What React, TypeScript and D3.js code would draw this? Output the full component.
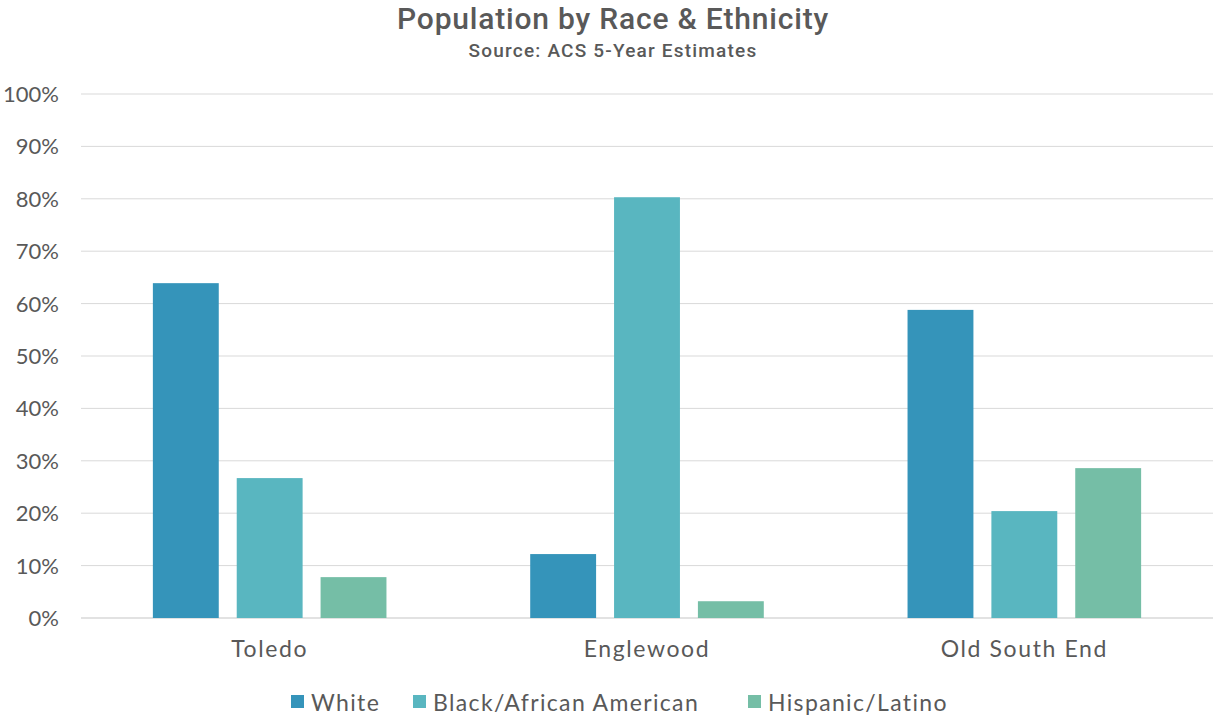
import React from "react";
import * as d3 from "d3";

const categories = ["Toledo", "Englewood", "Old South End"];
const seriesNames = ["White", "Black/African American", "Hispanic/Latino"];
const white = [0.639, 0.122, 0.588];
const black = [0.267, 0.803, 0.204];
const hispanic = [0.078, 0.032, 0.286];
const yTicks = [0, 0.1, 0.2, 0.3, 0.4, 0.5, 0.6, 0.7, 0.8, 0.9, 1.0];
const colors = ["#3594BA", "#59B6C0", "#75BEA6"];

const W = 1214;
const H = 717;
const left = 81;
const right = 1213;
const top = 94;
const bottom = 618;

export default function App() {
  const series = [white, black, hispanic];
  const x = d3.scaleBand<string>().domain(categories).range([left, right]).padding(0);
  const inner = d3
    .scaleBand<string>()
    .domain(seriesNames)
    .range([0, x.bandwidth()])
    .paddingInner(18 / 84)
    .paddingOuter(72 / 84);
  const y = d3.scaleLinear().domain([0, 1]).range([bottom, top]);
  const fmt = d3.format(".0%");
  const font = "'Lato', 'DejaVu Sans', sans-serif";
  const gray = "#595959";

  const legendX = [291, 413, 748];

  return (
    <svg width={W} height={H} style={{ position: "absolute", left: 0, top: 0, background: "#fff" }}>
      <text x={613} y={29} textAnchor="middle" fill={gray} fontFamily="Roboto, 'DejaVu Sans', sans-serif" fontSize={30} fontWeight={500} letterSpacing={0.8}>
        Population by Race &amp; Ethnicity
      </text>
      <text x={613} y={57} textAnchor="middle" fill={gray} fontFamily="Roboto, 'DejaVu Sans', sans-serif" fontSize={19} fontWeight={500} letterSpacing={1.2}>
        Source: ACS 5-Year Estimates
      </text>
      {yTicks.map((t) => (
        <g key={t}>
          <line x1={left} x2={right} y1={y(t)} y2={y(t)} stroke="#d9d9d9" strokeWidth={t === 0 ? 1.5 : 1} />
          <text x={59} y={y(t) + 8} textAnchor="end" fill={gray} fontFamily={font} fontSize={22}>
            {fmt(t)}
          </text>
        </g>
      ))}
      {categories.map((c, ci) => (
        <g key={c}>
          {series.map((s, si) => (
            <rect
              key={si}
              x={(x(c) as number) + (inner(seriesNames[si]) as number)}
              y={y(s[ci])}
              width={inner.bandwidth()}
              height={bottom - y(s[ci])}
              fill={colors[si]}
            />
          ))}
          <text x={(x(c) as number) + x.bandwidth() / 2} y={657} textAnchor="middle" fill={gray} fontFamily={font} fontSize={23} letterSpacing={1.6}>
            {c}
          </text>
        </g>
      ))}
      {seriesNames.map((name, i) => (
        <g key={name}>
          <rect x={legendX[i]} y={695} width={13} height={13} fill={colors[i]} />
          <text x={legendX[i] + 20} y={711} fill={gray} fontFamily={font} fontSize={23} letterSpacing={1.35}>
            {name}
          </text>
        </g>
      ))}
    </svg>
  );
}
